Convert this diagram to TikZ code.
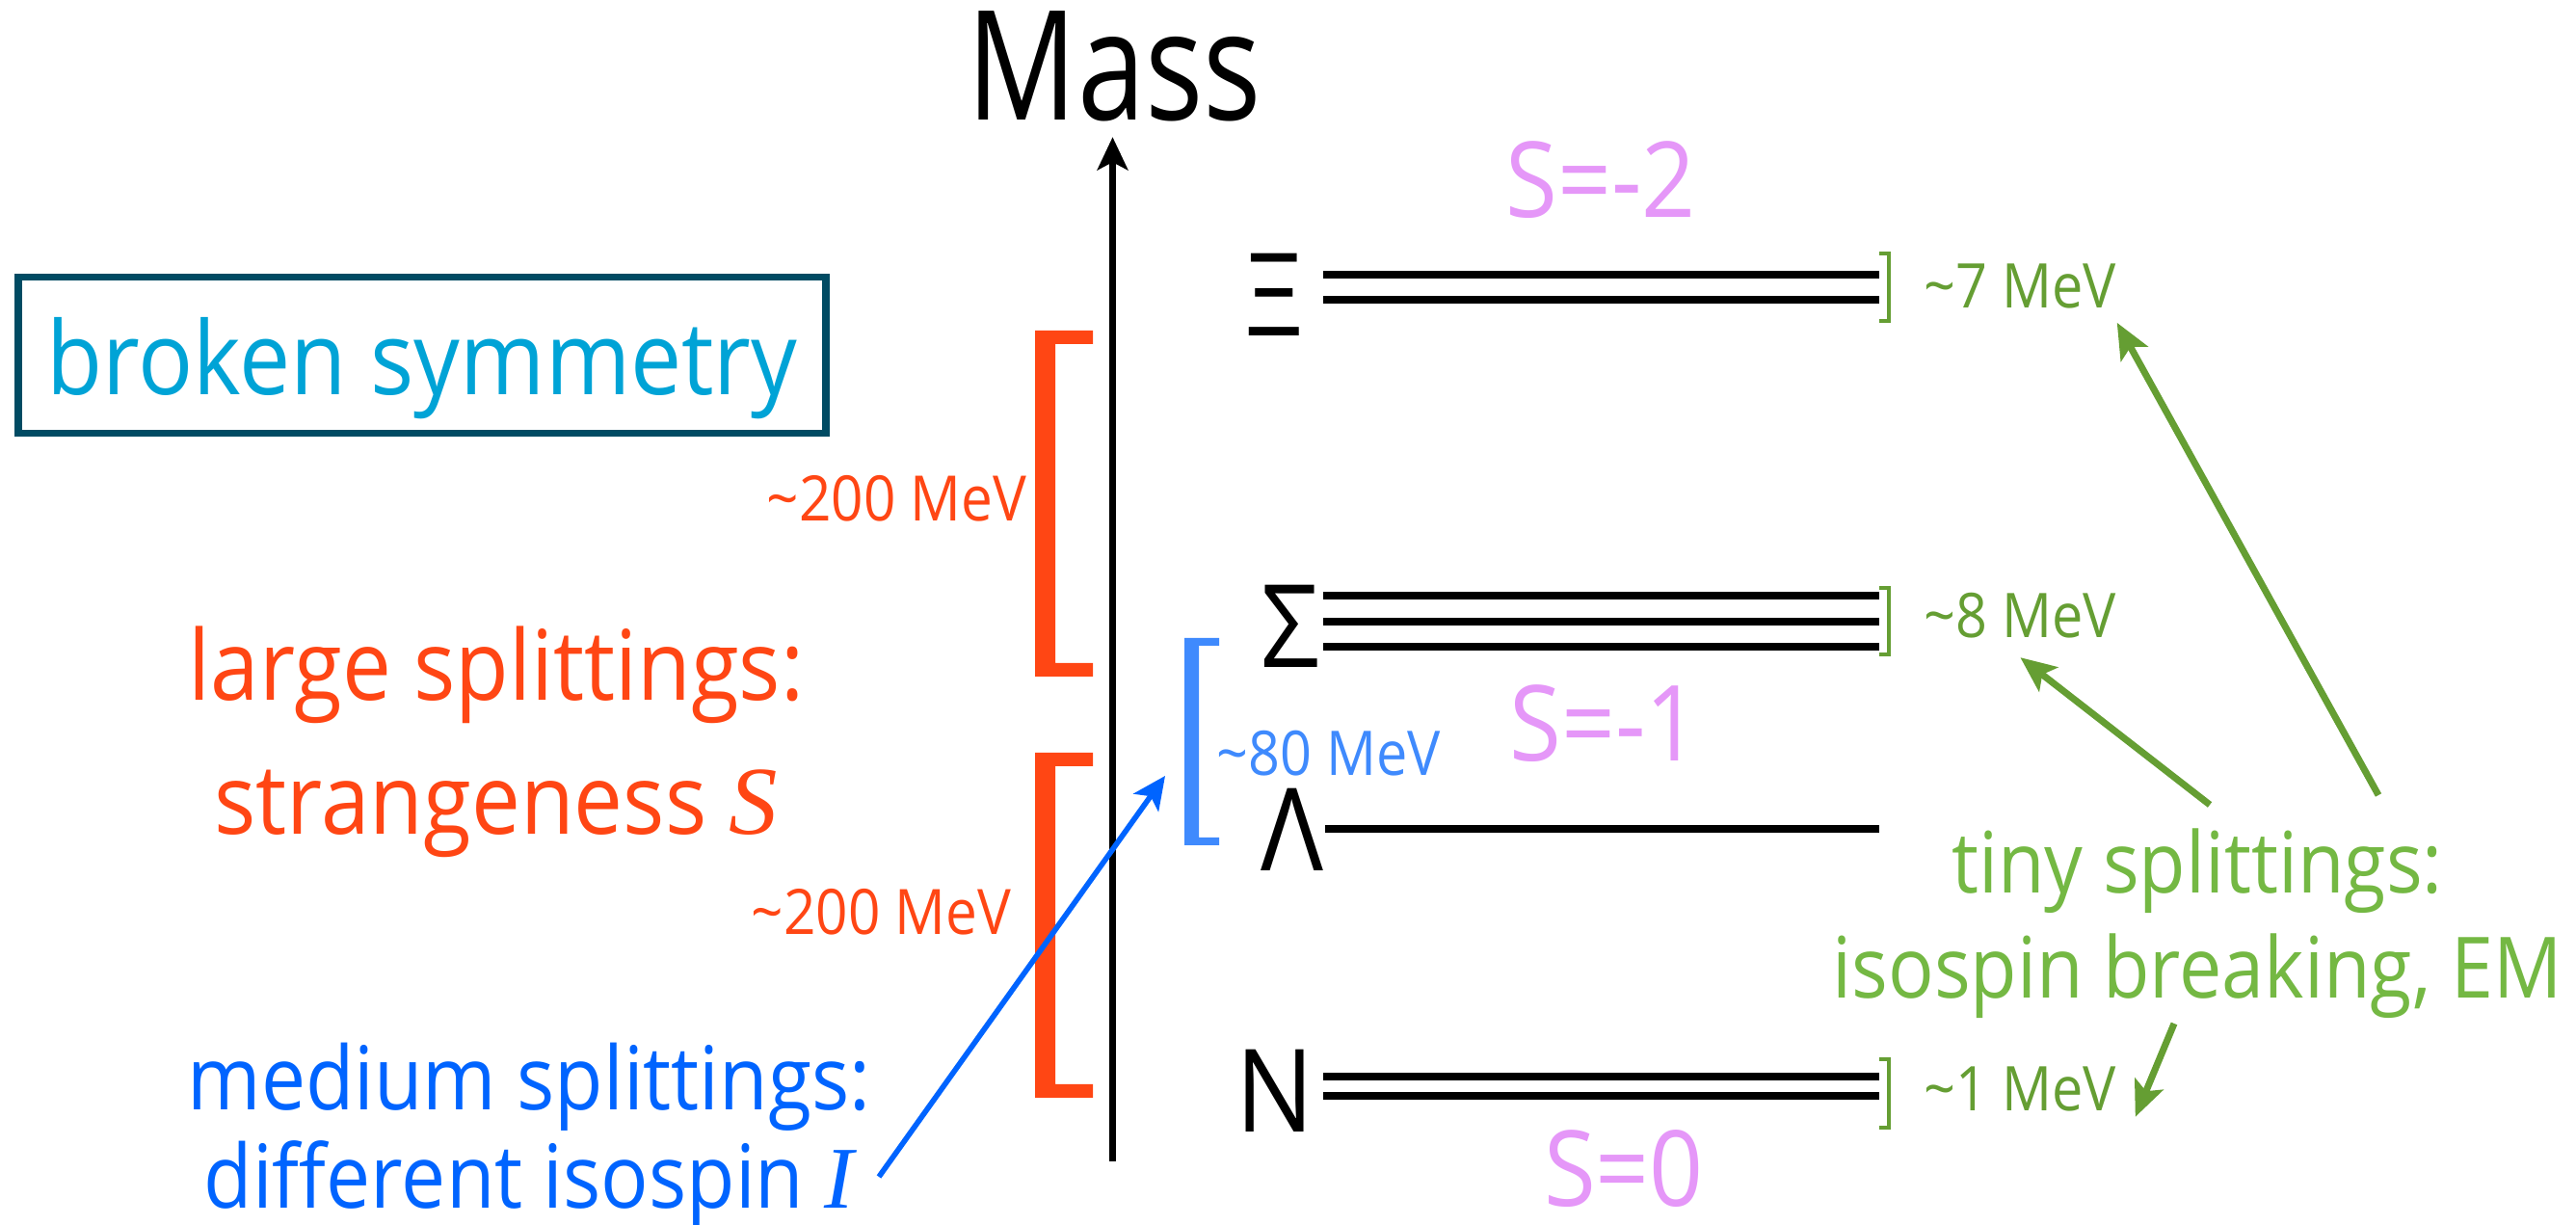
\documentclass[tikz,border=0pt]{standalone}
\usepackage{fontspec}
\setmainfont[FakeStretch=0.9]{Open Sans}
\newfontfamily\massfont[FakeStretch=0.8]{Open Sans}
\newfontfamily\qnfont{Liberation Serif}
\usepackage{tikz}
\usetikzlibrary{arrows.meta}
\definecolor{bsCyan}{HTML}{00A3D6}
\definecolor{bsFrame}{HTML}{004B63}
\definecolor{bsRed}{HTML}{FF4614}
\definecolor{bsBlue}{HTML}{0064FF}
\definecolor{bsBlueLight}{HTML}{3F8AFD}
\definecolor{bsPink}{HTML}{E597F8}
\definecolor{bsGreen}{HTML}{74B843}
\definecolor{bsGreenDark}{HTML}{659E33}
\newcommand{\qn}[1]{{\qnfont\itshape #1}}
\tikzset{
  axisarr/.style={-{Stealth[length=9.7pt,width=9pt,inset=2.3pt]}, line width=2pt, draw=black},
  garr/.style={-{Stealth[length=10.5pt,width=9pt,inset=2.3pt]}, line width=2pt, draw=bsGreenDark},
  barr/.style={-{Stealth[length=9.7pt,width=9pt,inset=2.3pt]}, line width=1.6pt, draw=bsBlue},
  level/.style={line width=2.3pt, draw=black},
  gbrack/.style={line width=1.2pt, draw=bsGreenDark},
  hadron/.style={inner sep=0pt, font=\fontsize{34}{34}\selectfont},
  strange/.style={inner sep=0pt, text=bsPink, font=\fontsize{31}{31}\selectfont},
  glabel/.style={anchor=west, inner sep=0pt, text=bsGreenDark, font=\fontsize{18.2}{18.2}\selectfont},
  rlabel/.style={anchor=east, inner sep=0pt, text=bsRed, font=\fontsize{18.5}{18.5}\selectfont},
  note/.style={inner sep=0pt, align=center}
}

\begin{document}
\begin{tikzpicture}
  \useasboundingbox (0,0) rectangle (26.73,12.71);
  % legend box
  \node[draw=bsFrame, line width=2pt, minimum width=8.38cm, minimum height=1.62cm, inner sep=0pt, text depth=0pt, text=bsCyan, font=\fontsize{30}{30}\selectfont] (broken) at (4.38,9.02) {broken symmetry};

  % mass axis
  \node[anchor=base, inner sep=0pt, font=\massfont\fontsize{45}{45}\selectfont] (mass) at (11.565,11.46) {Mass};
  \coordinate (axbot) at (11.545,0.66);
  \draw[axisarr, shorten >=1.5mm] (axbot) -- (axbot |- mass.south);

  % multiplets
  \node[hadron] (Xi) at (13.22,9.655) {Ξ};
  \node[hadron] (Sigma) at (13.39,6.21) {Σ};
  \node[hadron] (Lambda) at (13.41,4.10) {Λ};
  \node[hadron] (N) at (13.23,1.39) {N};
  \foreach \y in {9.86,9.60,6.53,6.26,6.00,1.54,1.34}
    \draw[level] (13.73,\y) -- (19.50,\y);
  \draw[level] (13.745,4.11) -- (19.50,4.11);

  % isospin splittings
  \foreach \t/\b in {10.08/9.38,6.61/5.92,1.72/1.01}
    \draw[gbrack] (19.50,\t) -- (19.60,\t) -- (19.60,\b) -- (19.50,\b);
  \node[glabel] (l7) at (19.96,9.74) {\textasciitilde7 MeV};
  \node[glabel] (l8) at (19.96,6.32) {\textasciitilde8 MeV};
  \node[glabel] (l1) at (19.96,1.41) {\textasciitilde1 MeV};

  % strangeness
  \node[strange] (s2) at (16.61,10.84) {S=-2};
  \node[strange] (s1) at (16.65,5.20) {S=-1};
  \node[strange] (s0) at (16.85,0.58) {S=0};

  % large splittings
  \foreach \t/\b in {9.28/5.69,4.90/1.32}
    \fill[bsRed] (11.34,\t) -- (10.74,\t) -- (10.74,\b) -- (11.34,\b) -- (11.34,{\b+0.14})
      -- (10.95,{\b+0.14}) -- (10.95,{\t-0.14}) -- (11.34,{\t-0.14}) -- cycle;
  \node[rlabel] (r1) at (10.66,7.54) {\textasciitilde200 MeV};
  \node[rlabel] (r2) at (10.50,3.25) {\textasciitilde200 MeV};

  % medium splitting
  \fill[bsBlueLight] (12.65,6.09) -- (12.29,6.09) -- (12.29,3.94) -- (12.65,3.94) -- (12.65,4.02)
    -- (12.44,4.02) -- (12.44,6.01) -- (12.65,6.01) -- cycle;
  \node[anchor=west, inner sep=0pt, text=bsBlueLight, font=\fontsize{18.2}{18.2}\selectfont] (l80) at (12.62,4.89) {\textasciitilde80 MeV};

  % explanations
  \node[note, text=bsRed, font=\fontsize{28.7}{39.5}\selectfont] (large) at (5.15,5.01) {large splittings:\\strangeness \qn{S}};
  \node[note, text=bsBlue, font=\fontsize{26}{29}\selectfont] (medium) at (5.49,0.92) {medium splittings:\\different isospin \qn{I}};
  \node[note, text=bsGreen, font=\fontsize{25}{31.1}\selectfont] (tiny) at (22.80,3.13) {tiny splittings:\\isospin breaking, EM};

  \coordinate (isotail) at (9.12,0.50);
  \coordinate (isotip) at (12.09,4.66);
  \draw[barr] (isotail) -- (isotip);
  \coordinate (t7) at (24.68,4.46);
  \coordinate (t8) at (22.93,4.36);
  \coordinate (t1) at (22.56,2.09);
  \draw[garr] (t7) -- ([yshift=-1.4mm]l7.south east);
  \draw[garr] (t8) -- ([yshift=-1.9mm]l8.south);
  \draw[garr] (t1) -- ([xshift=1.9mm,yshift=-0.5mm]l1.south east);
\end{tikzpicture}
\end{document}
